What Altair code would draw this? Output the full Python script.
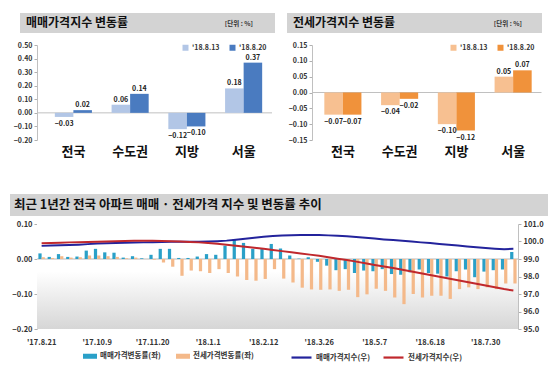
import altair as alt
import pandas as pd

FONT = "Noto Sans CJK KR"

# ---------------- top panels ----------------
regions = ["전국", "수도권", "지방", "서울"]
weeks_top = ["'18.8.13", "'18.8.20"]
sale_0813 = [-0.03, 0.06, -0.12, 0.18]
sale_0820 = [0.02, 0.14, -0.10, 0.37]
jeonse_0813 = [-0.07, -0.04, -0.10, 0.05]
jeonse_0820 = [-0.07, -0.02, -0.12, 0.07]
sale_ticks = [-0.2, -0.1, 0.0, 0.1, 0.2, 0.3, 0.4, 0.5]
jeonse_ticks = [-0.15, -0.10, -0.05, 0.0, 0.05, 0.10, 0.15]

# ---------------- bottom panel ----------------
weeks = ["'17.8.21", "'17.8.28", "'17.9.4", "'17.9.11", "'17.9.18", "'17.9.25",
         "'17.10.9", "'17.10.16", "'17.10.23", "'17.10.30", "'17.11.6", "'17.11.13",
         "'17.11.20", "'17.11.27", "'17.12.4", "'17.12.11", "'17.12.18", "'17.12.25",
         "'18.1.1", "'18.1.8", "'18.1.15", "'18.1.22", "'18.1.29", "'18.2.5",
         "'18.2.12", "'18.2.19", "'18.2.26", "'18.3.5", "'18.3.12", "'18.3.19",
         "'18.3.26", "'18.4.2", "'18.4.9", "'18.4.16", "'18.4.23", "'18.4.30",
         "'18.5.7", "'18.5.14", "'18.5.21", "'18.5.28", "'18.6.4", "'18.6.11",
         "'18.6.18", "'18.6.25", "'18.7.2", "'18.7.9", "'18.7.16", "'18.7.23",
         "'18.7.30", "'18.8.6", "'18.8.13", "'18.8.20"]
week_ticks = ["'17.8.21", "'17.10.9", "'17.11.20", "'18.1.1", "'18.2.12",
              "'18.3.26", "'18.5.7", "'18.6.18", "'18.7.30"]
sale_rate = [0.016, 0.006, 0.014, 0.006, 0.007, 0.024, 0.029, 0.019, 0.018, 0.004,
             0.008, 0.002, 0.012, 0.029, 0.029, 0.003, 0.003, 0.007, 0.014, 0.012,
             0.038, 0.057, 0.046, 0.029, 0.029, 0.043, 0.030, 0.010, 0.001, 0.005,
             -0.008, -0.019, -0.032, -0.029, -0.040, -0.033, -0.035, -0.029, -0.043, -0.045,
             -0.038, -0.030, -0.040, -0.042, -0.050, -0.035, -0.030, -0.052, -0.036, -0.032,
             -0.030, 0.020]
jeonse_rate = [0.005, 0.003, 0.008, 0.004, 0.005, 0.010, 0.010, 0.008, 0.006, 0.002,
               0.004, 0.000, -0.002, -0.010, -0.022, -0.048, -0.033, -0.035, -0.040, -0.029,
               -0.040, -0.050, -0.060, -0.062, -0.057, -0.029, -0.056, -0.067, -0.082, -0.087,
               -0.088, -0.087, -0.091, -0.088, -0.109, -0.101, -0.085, -0.091, -0.110, -0.129,
               -0.100, -0.110, -0.105, -0.105, -0.114, -0.086, -0.081, -0.086, -0.081, -0.086,
               -0.070, -0.070]
sale_index = [99.75, 99.77, 99.79, 99.80, 99.82, 99.85, 99.88, 99.90, 99.92, 99.93,
              99.94, 99.95, 99.96, 99.97, 99.98, 99.98, 99.99, 99.99, 100.00, 100.02,
              100.05, 100.10, 100.16, 100.22, 100.27, 100.31, 100.34, 100.36, 100.37, 100.37,
              100.37, 100.35, 100.33, 100.30, 100.26, 100.22, 100.17, 100.12, 100.08, 100.04,
              100.00, 99.95, 99.91, 99.86, 99.82, 99.77, 99.72, 99.67, 99.63, 99.59,
              99.56, 99.58]
jeonse_index = [99.90, 99.92, 99.93, 99.95, 99.96, 99.97, 99.99, 100.00, 100.02, 100.03,
                100.04, 100.04, 100.04, 100.03, 100.02, 100.00, 99.97, 99.95, 99.92, 99.87,
                99.82, 99.76, 99.70, 99.64, 99.58, 99.52, 99.45, 99.39, 99.32, 99.25,
                99.18, 99.10, 99.02, 98.94, 98.85, 98.76, 98.66, 98.57, 98.48, 98.38,
                98.28, 98.18, 98.08, 97.98, 97.88, 97.78, 97.68, 97.58, 97.48, 97.38,
                97.28, 97.20]
rate_ticks = [-0.2, -0.1, 0.0, 0.1]
index_ticks = [95, 96, 97, 98, 99, 100, 101]
rate_names = ["매매가격변동률(좌)", "전세가격변동률(좌)"]
index_names = ["매매가격지수(우)", "전세가격지수(우)"]

one = pd.DataFrame({"k": [0]})
zero_df = pd.DataFrame({"value": [0.0]})
TITLE_GREY = "#d3d3d3"


def invisible(x, y):
    return alt.Chart(one).mark_rect(opacity=0).encode(
        x=alt.value(x), x2=alt.value(x + 1), y=alt.value(y), y2=alt.value(y + 1))


def num_axis(ticks, fmt, orient="left", size=7):
    return alt.Axis(orient=orient, title=None, values=ticks, format=fmt, grid=False,
                    labelOverlap=False, labelFontSize=size, labelFont=FONT,
                    labelFontWeight="bold", labelColor="#333", tickSize=3,
                    tickColor="#b0b0b0", domainColor="#c0c0c0", labelPadding=2)


def top_panel(v1, v2, light, dark, domain, ticks, title, width, title_x, unit_x, legend_x):
    df = pd.DataFrame({
        "region": regions * 2,
        "week": [weeks_top[0]] * 4 + [weeks_top[1]] * 4,
        "value": v1 + v2,
    })
    step = 56.75
    po = (width - 4 * step) / (2 * step)
    x = alt.X("region:N", sort=regions,
              scale=alt.Scale(paddingInner=0, paddingOuter=po, align=1),
              axis=alt.Axis(title=None, domain=False, ticks=False, labelAngle=0,
                            labelFontSize=13, labelFontWeight="bold", labelFont=FONT,
                            labelColor="#111", labelPadding=5))
    xo = alt.XOffset("week:N", sort=weeks_top, scale=alt.Scale(paddingInner=0, paddingOuter=0.53))
    y = alt.Y("value:Q", scale=alt.Scale(domain=domain, nice=False, zero=False),
              axis=num_axis(ticks, ".2f"))
    base = alt.Chart(df)
    bars = base.mark_bar().encode(
        x=x, xOffset=xo, y=y,
        color=alt.Color("week:N", sort=weeks_top,
                        scale=alt.Scale(domain=weeks_top, range=[light, dark]),
                        legend=alt.Legend(title=None, orient="none", legendX=legend_x, legendY=-1,
                                          direction="horizontal", symbolType="square",
                                          symbolSize=36, symbolStrokeWidth=0, padding=0,
                                          labelFontSize=7, labelFont=FONT, labelFontWeight="bold",
                                          labelColor="#333", columnPadding=9, labelOffset=3)),
    )
    pos = base.transform_filter("datum.value >= 0").mark_text(
        baseline="bottom", dy=-2, fontSize=7, fontWeight="bold", font=FONT, color="#222"
    ).encode(x=x, xOffset=xo, y=y, text=alt.Text("value:Q", format=".2f"))
    neg = base.transform_filter("datum.value < 0").mark_text(
        baseline="top", dy=3, fontSize=7, fontWeight="bold", font=FONT, color="#222"
    ).encode(x=x, xOffset=xo, y=y, text=alt.Text("value:Q", format=".2f"))
    zero = alt.Chart(zero_df).mark_rule(color="#c0c0c0", strokeWidth=1).encode(
        y=y, x=alt.value(0), x2=alt.value(width))
    rect = alt.Chart(one).mark_rect(color=TITLE_GREY).encode(
        x=alt.value(title_x[0]), x2=alt.value(title_x[1]), y=alt.value(-32), y2=alt.value(-12))
    ttl = alt.Chart(one).mark_text(text=title, align="left", baseline="middle", fontSize=12,
                                   fontWeight="bold", font=FONT, color="#111").encode(
        x=alt.value(title_x[0] + 6), y=alt.value(-22))
    unit = alt.Chart(one).mark_text(text="[단위 : %]", align="right", baseline="middle", fontSize=6.5,
                                    fontWeight="bold", font=FONT, color="#333").encode(
        x=alt.value(unit_x), y=alt.value(-21))
    return alt.layer(invisible(-29, -37), invisible(0, 118), rect, ttl, unit, zero,
                     bars, pos, neg).properties(width=width, height=95)


A = top_panel(sale_0813, sale_0820, "#b2c6e6", "#4a7bc0", [-0.2, 0.5], sale_ticks,
              "매매가격지수 변동률", 235, (-17, 238), 216, 145)
B = top_panel(jeonse_0813, jeonse_0820, "#f7c091", "#f0923b", [-0.15, 0.15], jeonse_ticks,
              "전세가격지수 변동률", 229.5, (-25, 230), 210, 138)

# ---------------- bottom chart ----------------
W, H = 481, 105
rate_df = pd.DataFrame({"week": weeks * 2,
                        "series": [rate_names[0]] * 52 + [rate_names[1]] * 52,
                        "value": sale_rate + jeonse_rate})
idx_df = pd.DataFrame({"week": weeks * 2,
                       "series": [index_names[0]] * 52 + [index_names[1]] * 52,
                       "value": sale_index + jeonse_index})

xC = alt.X("week:O", sort=weeks, scale=alt.Scale(paddingInner=0.3, paddingOuter=0.15),
           axis=alt.Axis(values=week_ticks, title=None, labelAngle=0, domain=False, ticks=False,
                         labelFontSize=7.5, labelFontWeight="bold", labelFont=FONT,
                         labelColor="#333", labelPadding=9))

bg = alt.Chart(one).mark_rect(
    color=alt.Gradient(gradient="linear", x1=0, y1=0, x2=0, y2=1,
                       stops=[alt.GradientStop(color="#ffffff", offset=0),
                              alt.GradientStop(color="#ffffff", offset=0.45),
                              alt.GradientStop(color="#d6d6d6", offset=1)])
).encode(x=alt.value(0), x2=alt.value(W), y=alt.value(0), y2=alt.value(H))

yC = alt.Y("value:Q", scale=alt.Scale(domain=[-0.2, 0.1], nice=False, zero=False),
           axis=num_axis(rate_ticks, ".2f", "left", 7.5))
bars_c = alt.Chart(rate_df).mark_bar().encode(
    x=xC,
    xOffset=alt.XOffset("series:N", sort=rate_names),
    y=yC,
    color=alt.Color("series:N", sort=rate_names,
                    scale=alt.Scale(domain=rate_names, range=["#2aa0c8", "#f4b98a"]),
                    legend=alt.Legend(title=None, orient="none", legendX=46, legendY=125,
                                      direction="horizontal",
                                      symbolType="M-1,-0.36L1,-0.36L1,0.36L-1,0.36Z",
                                      symbolSize=196, symbolStrokeWidth=0, padding=0,
                                      labelFontSize=7.5, labelFont=FONT, labelFontWeight="bold",
                                      labelColor="#333", columnPadding=15, labelOffset=3)),
)
zero_c = alt.Chart(zero_df).mark_rule(color="#b8b8b8", strokeWidth=1).encode(
    y=yC, x=alt.value(0), x2=alt.value(W))
left = alt.layer(bg, zero_c, bars_c)

lines_c = alt.Chart(idx_df).mark_line(strokeWidth=2).encode(
    x=alt.X("week:O", sort=weeks),
    y=alt.Y("value:Q", scale=alt.Scale(domain=[95, 101], nice=False, zero=False),
            axis=num_axis(index_ticks, ".1f", "right", 7.5)),
    stroke=alt.Stroke("series:N", sort=index_names,
                      scale=alt.Scale(domain=index_names, range=["#23239c", "#c0282d"]),
                      legend=alt.Legend(title=None, orient="none", legendX=253, legendY=122,
                                        direction="horizontal", symbolType="stroke",
                                        symbolSize=400, symbolStrokeWidth=2.2, padding=0,
                                        labelFontSize=7.5, labelFont=FONT, labelFontWeight="bold",
                                        labelColor="#333", columnPadding=9, labelOffset=3)),
)

rect_c = alt.Chart(one).mark_rect(color=TITLE_GREY).encode(
    x=alt.value(-27), x2=alt.value(511), y=alt.value(-30), y2=alt.value(-8))
ttl_c = alt.Chart(one).mark_text(text="최근 1년간 전국 아파트 매매 · 전세가격 지수 및 변동률 추이",
                                 align="left", baseline="middle", fontSize=12.5, fontWeight="bold",
                                 font=FONT, color="#111").encode(x=alt.value(-23), y=alt.value(-19))

C = alt.layer(invisible(-29, -35), left, lines_c, rect_c, ttl_c).resolve_scale(
    y="independent").properties(width=W, height=H)

top = alt.hconcat(A, B, spacing=40, bounds="flush").resolve_scale(
    color="independent", xOffset="independent", x="independent", y="independent"
).resolve_legend(color="independent")
chart = alt.vconcat(top, C, spacing=25).resolve_scale(
    color="independent", xOffset="independent", stroke="independent",
    x="independent", y="independent"
).resolve_legend(color="independent", stroke="independent").properties(
    padding=0, background="white"
).configure_view(stroke=None)

chart.save("out.html", embed_options={"renderer": "svg", "actions": False})
